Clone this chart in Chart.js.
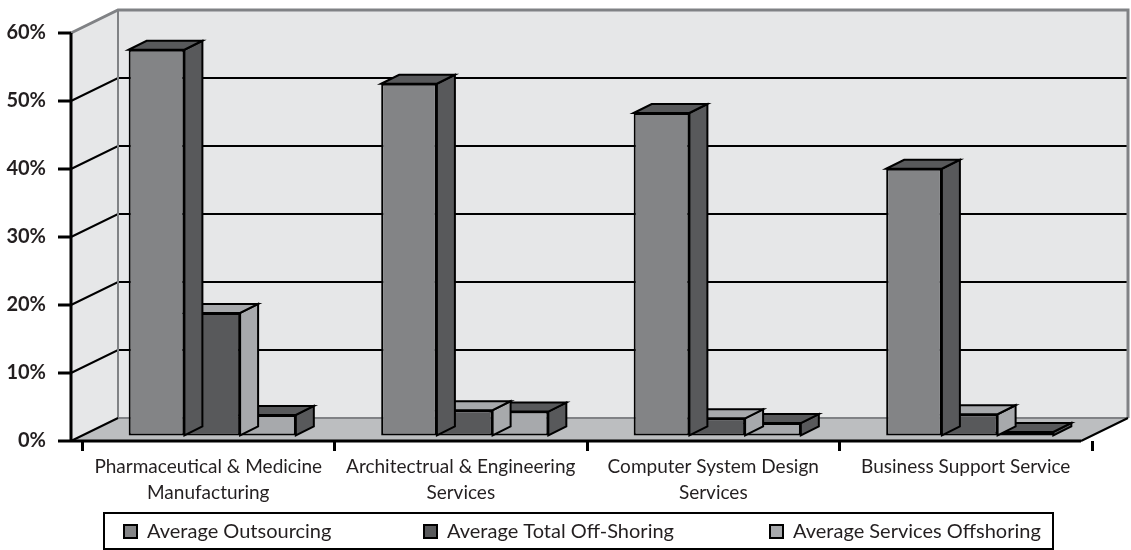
<!DOCTYPE html>
<html>
<head>
<meta charset="utf-8">
<script src="https://cdn.jsdelivr.net/npm/chart.js@4.4.1/dist/chart.umd.min.js"></script>
<style>
  html, body { margin: 0; padding: 0; background: #fff; }
  canvas { display: block; }
</style>
</head>
<body>
<canvas id="offshoreChart" width="1131" height="550"></canvas>
<script>
// values (percent)
const categories = [
    ['Pharmaceutical & Medicine', 'Manufacturing'],
    ['Architectrual & Engineering', 'Services'],
    ['Computer System Design', 'Services'],
    'Business Support Service'
];
const seriesNames = ['Average Outsourcing', 'Average Total Off-Shoring', 'Average Services Offshoring'];
const avgOutsourcing = [56.8, 51.8, 47.5, 39.3];
const avgTotalOffShoring = [18.1, 3.8, 2.6, 3.2];
const avgServicesOffshoring = [3.1, 3.6, 1.9, 0.6];
const yTicks = [0, 10, 20, 30, 40, 50, 60];

// front face / side+top face colours per series
const frontColors = ['#838486', '#58595b', '#a7a9ac'];
const sideColors = ['#58595b', '#a7a9ac', '#58595b'];

const wallFill = '#e6e7e8';
const floorFill = '#bcbec0';
const wallEdge = '#808285';
const ink = '#000000';
const textColor = '#231f20';
const FONT = 'Lato, "Open Sans", sans-serif';

// 3d look
const WALL_DX = 47, WALL_DY = -23;     // front plane -> back wall
const FRONT_SHIFT = 11;                // front floor edge sits left of the category ticks
const BAR_DX = 4, BAR_DY = -5;         // bars stand a little behind the front edge
const BAR_DEPTH_X = 18, BAR_DEPTH_Y = -9;
const LEGEND_X = [124, 424, 770];

// walls, floor, wall gridlines and the front axis
const wallsPlugin = {
    id: 'walls',
    beforeDraw(chart) {
        const ctx = chart.ctx;
        const y = chart.scales.y;
        const area = chart.chartArea;
        const x0 = area.left - FRONT_SHIFT;
        const x1 = area.right - FRONT_SHIFT;
        const yTop = y.getPixelForValue(yTicks[yTicks.length - 1]);
        const yBot = y.getPixelForValue(0);
        const dx = WALL_DX, dy = WALL_DY;

        ctx.save();
        // left wall
        ctx.fillStyle = wallFill;
        ctx.beginPath();
        ctx.moveTo(x0, yTop); ctx.lineTo(x0 + dx, yTop + dy);
        ctx.lineTo(x0 + dx, yBot + dy); ctx.lineTo(x0, yBot);
        ctx.closePath(); ctx.fill();
        // back wall
        ctx.fillRect(x0 + dx, yTop + dy, x1 - x0, yBot - yTop);
        // floor
        ctx.fillStyle = floorFill;
        ctx.beginPath();
        ctx.moveTo(x0, yBot); ctx.lineTo(x1, yBot);
        ctx.lineTo(x1 + dx, yBot + dy); ctx.lineTo(x0 + dx, yBot + dy);
        ctx.closePath(); ctx.fill();

        // gridlines on the walls
        ctx.strokeStyle = ink;
        ctx.lineWidth = 2;
        yTicks.slice(1, -1).forEach(v => {
            const py = y.getPixelForValue(v);
            ctx.beginPath();
            ctx.moveTo(x0, py); ctx.lineTo(x0 + dx, py + dy); ctx.lineTo(x1 + dx, py + dy);
            ctx.stroke();
        });

        // wall edges
        ctx.strokeStyle = wallEdge;
        ctx.lineWidth = 3;
        ctx.beginPath();
        ctx.moveTo(x0, yTop); ctx.lineTo(x0 + dx, yTop + dy);
        ctx.lineTo(x1 + dx, yTop + dy); ctx.lineTo(x1 + dx, yBot + dy);
        ctx.stroke();
        ctx.lineWidth = 2;
        ctx.beginPath();
        ctx.moveTo(x0 + dx, yTop + dy); ctx.lineTo(x0 + dx, yBot + dy); ctx.lineTo(x1 + dx, yBot + dy);
        ctx.stroke();

        // floor side edges
        ctx.strokeStyle = ink;
        ctx.lineWidth = 2;
        ctx.beginPath();
        ctx.moveTo(x0, yBot); ctx.lineTo(x0 + dx, yBot + dy);
        ctx.moveTo(x1, yBot); ctx.lineTo(x1 + dx, yBot + dy);
        ctx.stroke();

        // front axis lines and y tick marks
        ctx.lineWidth = 3;
        ctx.beginPath();
        ctx.moveTo(x0, yTop); ctx.lineTo(x0, yBot); ctx.lineTo(x1, yBot);
        yTicks.forEach(v => {
            const py = y.getPixelForValue(v);
            ctx.moveTo(x0 - 13, py); ctx.lineTo(x0, py);
        });
        ctx.stroke();
        ctx.restore();
    }
};

// side and top faces of each bar
const barDepthPlugin = {
    id: 'barDepth',
    beforeDatasetsDraw(chart) {
        chart.ctx.save();
        chart.ctx.translate(BAR_DX, BAR_DY);
    },
    afterDatasetDraw(chart, args) {
        const ctx = chart.ctx;
        const side = sideColors[args.index];
        args.meta.data.forEach(bar => {
            const p = bar.getProps(['x', 'y', 'base', 'width'], true);
            const l = p.x - p.width / 2, r = p.x + p.width / 2, t = p.y, b = p.base;
            ctx.fillStyle = side;
            ctx.strokeStyle = ink;
            ctx.lineWidth = 2;
            ctx.lineJoin = 'miter';
            ctx.beginPath();
            ctx.moveTo(r, t); ctx.lineTo(r + BAR_DEPTH_X, t + BAR_DEPTH_Y);
            ctx.lineTo(r + BAR_DEPTH_X, b + BAR_DEPTH_Y); ctx.lineTo(r, b);
            ctx.closePath(); ctx.fill(); ctx.stroke();
            ctx.beginPath();
            ctx.moveTo(l, t); ctx.lineTo(l + BAR_DEPTH_X, t + BAR_DEPTH_Y);
            ctx.lineTo(r + BAR_DEPTH_X, t + BAR_DEPTH_Y); ctx.lineTo(r, t);
            ctx.closePath(); ctx.fill(); ctx.stroke();
        });
    },
    afterDatasetsDraw(chart) {
        chart.ctx.restore();
    }
};

// boxed legend under the axis
const legendBoxPlugin = {
    id: 'legendBox',
    afterDraw(chart) {
        const ctx = chart.ctx;
        ctx.save();
        ctx.strokeStyle = ink;
        ctx.lineWidth = 2;
        ctx.strokeRect(104, 513, 949, 36);
        ctx.font = '20px ' + FONT;
        ctx.textBaseline = 'middle';
        chart.data.datasets.forEach((ds, i) => {
            const x = LEGEND_X[i];
            ctx.fillStyle = ds.backgroundColor;
            ctx.fillRect(x, 525, 13, 13);
            ctx.lineWidth = 2;
            ctx.strokeRect(x, 525, 13, 13);
            ctx.fillStyle = textColor;
            ctx.fillText(ds.label, x + 23, 532);
        });
        ctx.restore();
    }
};

const seriesValues = [avgOutsourcing, avgTotalOffShoring, avgServicesOffshoring];

const ctx = document.getElementById('offshoreChart').getContext('2d');
const offshoreChart = new Chart(ctx, {
    type: 'bar',
    data: {
        labels: categories,
        datasets: seriesValues.map((vals, i) => ({
            label: seriesNames[i],
            data: vals,
            backgroundColor: frontColors[i],
            borderColor: ink,
            borderWidth: 2,
            borderSkipped: false,
            barPercentage: 1.0,
            categoryPercentage: 0.662,
            clip: false
        }))
    },
    options: {
        responsive: false,
        animation: false,
        layout: { padding: { left: 0, right: 39, top: 33, bottom: 0 } },
        plugins: {
            legend: { display: false },
            tooltip: { enabled: false }
        },
        scales: {
            x: {
                grid: { drawOnChartArea: false, drawTicks: true, tickLength: 10, color: ink, lineWidth: 3, offset: true },
                border: { display: false },
                ticks: {
                    font: { family: FONT, size: 19, lineHeight: 1.37 },
                    color: textColor,
                    padding: 3,
                    maxRotation: 0,
                    autoSkip: false
                },
                afterFit(scale) { scale.height = 109; }
            },
            y: {
                min: 0,
                max: 60,
                afterBuildTicks(scale) { scale.ticks = yTicks.map(v => ({ value: v })); },
                // invisible tick marks keep the labels clear of the front axis
                grid: { drawOnChartArea: false, drawTicks: true, tickLength: 36, color: 'rgba(0,0,0,0)' },
                border: { display: false },
                ticks: {
                    font: { family: FONT, size: 20, weight: 'bold' },
                    color: textColor,
                    padding: 0,
                    callback: v => v + '%'
                },
                afterFit(scale) { scale.width = 82; }
            }
        }
    },
    plugins: [wallsPlugin, barDepthPlugin, legendBoxPlugin]
});
</script>
</body>
</html>
